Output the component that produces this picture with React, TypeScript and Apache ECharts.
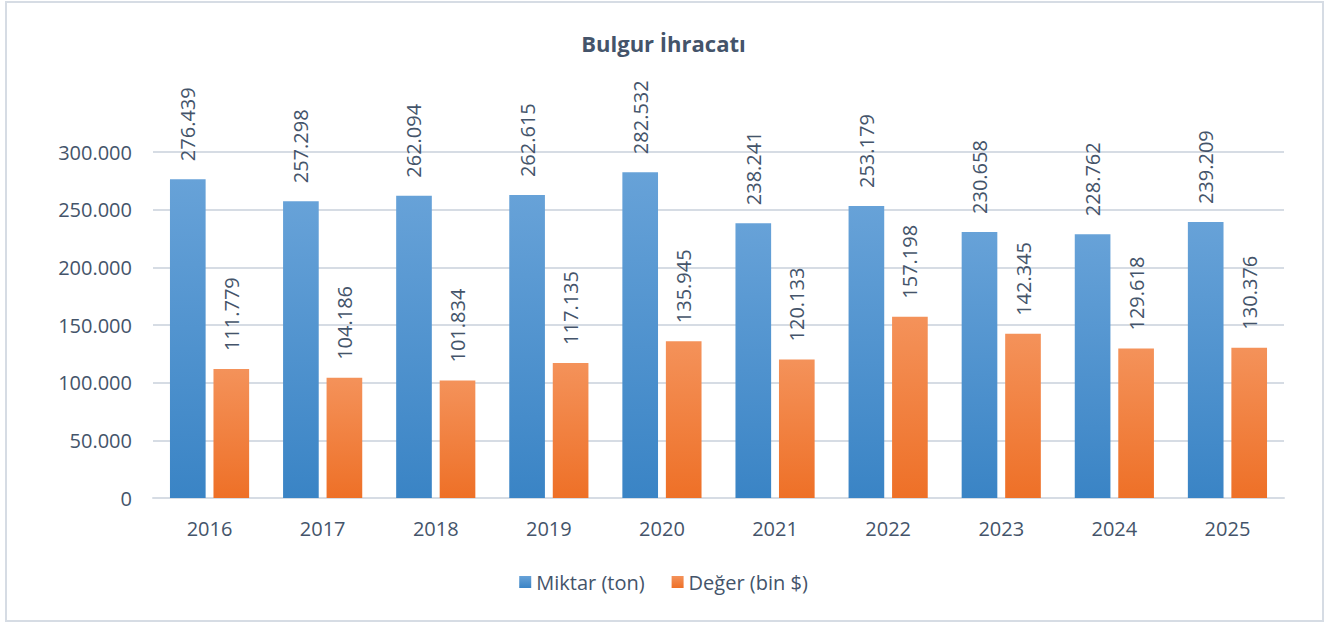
import React, { useEffect, useRef } from "react";
import * as echarts from "echarts";

const years = ["2016", "2017", "2018", "2019", "2020", "2021", "2022", "2023", "2024", "2025"];
const miktar = [276439, 257298, 262094, 262615, 282532, 238241, 253179, 230658, 228762, 239209];
const deger = [111779, 104186, 101834, 117135, 135945, 120133, 157198, 142345, 129618, 130376];
const seriesNames = ["Miktar (ton)", "Değer (bin $)"];
const titleText = "Bulgur İhracatı";

const fmt = (v: number) => String(Math.round(v)).replace(/\B(?=(\d{3})+(?!\d))/g, ".");

const FONT = "'Open Sans', 'Noto Sans', sans-serif";
const TXT = "#44546A";

export default function App() {
  const ref = useRef<HTMLDivElement>(null);
  useEffect(() => {
    if (!ref.current) return;
    const chart = echarts.init(ref.current, undefined, { renderer: "svg" });
    const label = {
      show: true,
      position: "top",
      rotate: 90,
      align: "left",
      verticalAlign: "middle",
      distance: 18,
      color: TXT,
      fontSize: 20,
      fontFamily: FONT,
      formatter: (p: any) => fmt(p.value),
    };
    chart.setOption({
      animation: false,
      backgroundColor: "#ffffff",
      title: {
        text: titleText,
        left: "center",
        top: 27,
        textStyle: { color: TXT, fontSize: 22, fontWeight: "bold", fontFamily: FONT },
      },
      legend: {
        bottom: 28,
        left: "center",
        itemWidth: 12,
        itemHeight: 12,
        itemGap: 27,
        icon: "rect",
        textStyle: { color: TXT, fontSize: 20, fontFamily: FONT },
        data: seriesNames,
      },
      grid: { left: 153, right: 43, top: 152, bottom: 127, containLabel: false },
      xAxis: {
        type: "category",
        data: years,
        axisLine: { show: true, lineStyle: { color: "#D6DCE4", width: 2 } },
        axisTick: { show: false },
        axisLabel: { color: TXT, fontSize: 20, fontFamily: FONT, margin: 20 },
      },
      yAxis: {
        type: "value",
        min: 0,
        max: 300000,
        interval: 50000,
        axisLine: { show: false },
        axisTick: { show: false },
        splitLine: { lineStyle: { color: "#D6DCE4", width: 2 } },
        axisLabel: { color: TXT, fontSize: 20, fontFamily: FONT, margin: 21, formatter: (v: number) => fmt(v) },
      },
      graphic: [
        {
          type: "rect",
          shape: { x: 6, y: 2, width: 1317, height: 619 },
          style: { fill: "none", stroke: "#D6DCE4", lineWidth: 2 },
          silent: true,
          z: -10,
        },
      ],
      series: [
        {
          name: seriesNames[0],
          type: "bar",
          data: miktar,
          barGap: "22%",
          barCategoryGap: "30%",
          itemStyle: {
            color: new echarts.graphic.LinearGradient(0, 0, 0, 1, [
              { offset: 0, color: "#67A2D8" },
              { offset: 1, color: "#3A84C5" },
            ], false),
          },
          label,
        },
        {
          name: seriesNames[1],
          type: "bar",
          data: deger,
          itemStyle: {
            color: new echarts.graphic.LinearGradient(0, 0, 0, 1, [
              { offset: 0, color: "#F4925A" },
              { offset: 1, color: "#EE7027" },
            ], false),
          },
          label,
        },
      ],
    });
    return () => chart.dispose();
  }, []);
  return <div ref={ref} style={{ position: "absolute", left: 0, top: 0, width: 1327, height: 625 }} />;
}
